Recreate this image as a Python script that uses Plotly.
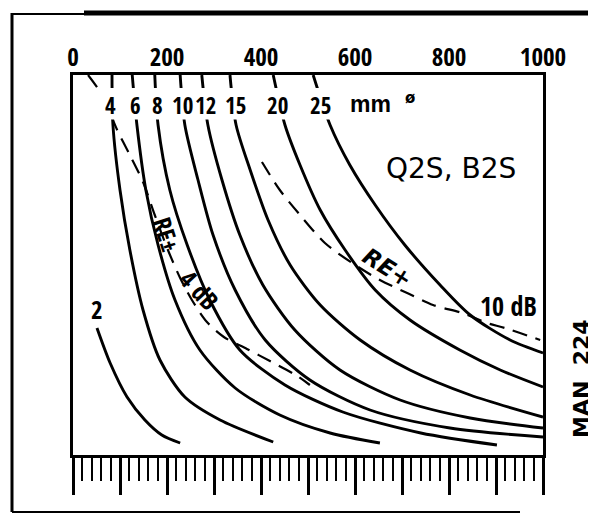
import plotly.graph_objects as go

# Distance (mm) and gain (dB, increasing downward)
d2_x = [51, 79, 115, 153, 189, 228]
d2_y = [50.6, 57.6, 64.4, 69.0, 72.0, 73.6]

d4_x = [83, 85, 100, 121, 149, 185, 238, 313, 426]
d4_y = [0, 10, 23, 35, 47, 57, 64.4, 69, 73.4]

d6_x = [126, 136, 155, 181, 217, 270, 345, 440, 547, 653]
d6_y = [0, 10, 23, 34, 45, 55, 62.6, 68, 71.6, 73.6]

d8_x = [174, 181, 206, 243, 291, 355, 451, 574, 740, 902]
d8_y = [0, 10, 23, 34, 45, 55, 62, 67.4, 71.6, 74]

d10_x = [228, 238, 266, 298, 345, 409, 504, 632, 802, 1000]
d10_y = [0, 10, 21, 32, 43, 53, 61, 67, 70.6, 72.4]

d12_x = [274, 287, 317, 355, 404, 472, 568, 696, 845, 1000]
d12_y = [0, 10, 21, 32, 42, 51, 59, 65, 68.6, 70.6]

d15_x = [334, 347, 377, 415, 462, 526, 611, 717, 845, 1000]
d15_y = [0, 10, 19, 29, 38, 46, 53, 59, 64, 68.4]

d20_x = [426, 451, 483, 526, 579, 643, 717, 823, 909, 1000]
d20_y = [0, 10, 18, 27, 35, 43, 49, 55, 59, 62.4]

d25_x = [511, 547, 589, 643, 706, 781, 845, 930, 1000]
d25_y = [0, 10, 18, 26, 34, 42, 48, 53, 55.6]

re4_x = [32, 62, 94, 121, 149, 174, 202, 228, 253, 285, 321, 370, 419, 477, 504]
re4_y = [0, 4, 11, 16, 21.4, 28, 35, 40.6, 45, 49.4, 52.4, 54.8, 57.2, 60.2, 62]

re10_x = [402, 440, 483, 536, 594, 653, 711, 766, 828, 881, 919, 994]
re10_y = [17.4, 23, 28, 33.6, 37.6, 41, 43.6, 46, 47.6, 49.6, 50.6, 53]

top_ticks = [0, 200, 400, 600, 800, 1000]
size_labels = ["4", "6", "8", "10", "12", "15", "20", "25"]
size_label_x = [79, 132, 179, 234, 281, 345, 436, 526]

solid = [(d2_x, d2_y), (d4_x, d4_y), (d6_x, d6_y), (d8_x, d8_y), (d10_x, d10_y),
         (d12_x, d12_y), (d15_x, d15_y), (d20_x, d20_y), (d25_x, d25_y)]

fig = go.Figure()
for i, (xs, ys) in enumerate(solid):
    fig.add_trace(go.Scatter(x=xs, y=ys, mode="lines",
                             line=dict(color="black", width=2.9, shape="spline", smoothing=0.8),
                             hoverinfo="skip", showlegend=False, xaxis="x2" if i == 8 else "x"))
for xs, ys in [(re4_x, re4_y), (re10_x, re10_y)]:
    fig.add_trace(go.Scatter(x=xs, y=ys, mode="lines",
                             line=dict(color="black", width=2.2, dash="15px,9px", shape="spline", smoothing=0.8),
                             hoverinfo="skip", showlegend=False))

cond = ("Open Sans Condensed, DejaVu Sans Condensed, Liberation Sans Narrow, Arial Narrow, "
        "Roboto Condensed, DejaVu Sans, sans-serif")

# page is offset by the 8px body margin; plot area at page x 73..543, y 75..455
fig.update_layout(
    width=588, height=506,
    margin=dict(l=65, r=53, t=67, b=59),
    paper_bgcolor="white", plot_bgcolor="white",
    xaxis=dict(range=[0, 1000], showgrid=False, zeroline=False, showline=True, linecolor="black", linewidth=3,
               mirror=True, ticks="outside", tickvals=list(range(0, 1001, 100)), ticklen=37, tickwidth=3,
               tickcolor="black", showticklabels=False,
               minor=dict(ticks="outside", dtick=20, tick0=0, ticklen=23, tickwidth=2, tickcolor="black",
                          showgrid=False)),
    xaxis2=dict(range=[0, 1000], overlaying="x", side="top", showgrid=False, zeroline=False, showline=False,
                ticks="", tickvals=top_ticks, ticktext=[str(v) for v in top_ticks], ticklabelstandoff=3,
                tickfont=dict(family=cond, size=25, color="black", weight="bold")),
    yaxis=dict(range=[76, 0], showgrid=False, zeroline=False, showline=True, linecolor="black", linewidth=3,
               mirror=True, ticks="", showticklabels=False),
)


def px2paper_x(px):
    return (px - 73) / 470.0


def px2paper_y(py):
    return (455 - py) / 380.0


shapes = []
# white band masking the curves behind the size labels
shapes.append(dict(type="rect", xref="x", yref="y", x0=15, x1=760, y0=2.6, y1=8.9,
                   fillcolor="white", line=dict(width=0), layer="above"))
# outer frame of the scan
shapes.append(dict(type="line", xref="paper", yref="paper", x0=px2paper_x(84), x1=px2paper_x(600),
                   y0=px2paper_y(13), y1=px2paper_y(13), line=dict(color="black", width=5)))
shapes.append(dict(type="line", xref="paper", yref="paper", x0=px2paper_x(11), x1=px2paper_x(84),
                   y0=px2paper_y(14), y1=px2paper_y(14), line=dict(color="black", width=2)))
shapes.append(dict(type="line", xref="paper", yref="paper", x0=px2paper_x(12), x1=px2paper_x(12),
                   y0=px2paper_y(13), y1=px2paper_y(512), line=dict(color="black", width=3)))
shapes.append(dict(type="line", xref="paper", yref="paper", x0=px2paper_x(12), x1=px2paper_x(520),
                   y0=px2paper_y(512), y1=px2paper_y(512), line=dict(color="black", width=2)))
fig.update_layout(shapes=shapes)

ann = []
for t, xv in zip(size_labels, size_label_x):
    ann.append(dict(x=xv, y=6.0, xref="x", yref="y", text=t, showarrow=False,
                    font=dict(family=cond, size=23, color="black", weight="bold")))
ann.append(dict(x=632, y=5.8, xref="x", yref="y", text="mm", showarrow=False,
                font=dict(family="Liberation Sans, sans-serif", size=23, color="black", weight="bold")))
ann.append(dict(x=717, y=4.6, xref="x", yref="y", text="\u00f8", showarrow=False,
                font=dict(family="DejaVu Sans, sans-serif", size=15, color="black", weight="bold")))
ann.append(dict(x=51, y=46.8, xref="x", yref="y", text="2", showarrow=False,
                font=dict(family=cond, size=25, color="black", weight="bold")))
ann.append(dict(x=804, y=18.6, xref="x", yref="y", text="Q2S, B2S", showarrow=False,
                font=dict(family="DejaVu Sans, sans-serif", size=28, color="black")))
ann.append(dict(x=926, y=46.2, xref="x", yref="y", text="10 dB", showarrow=False,
                font=dict(family=cond, size=26, color="black", weight="bold")))
ann.append(dict(x=670, y=38.6, xref="x", yref="y", text="<i>RE+</i>", showarrow=False, textangle=32,
                font=dict(family="DejaVu Sans, sans-serif", size=23, color="black", weight="bold")))
# curved label along the left dashed line, set in two pieces
ann.append(dict(x=200, y=31.8, xref="x", yref="y", text="RE\u00b1", showarrow=False, textangle=72,
                font=dict(family=cond, size=25, color="black", weight="bold")))
ann.append(dict(x=270, y=43.0, xref="x", yref="y", text="4 dB", showarrow=False, textangle=47,
                font=dict(family=cond, size=25, color="black", weight="bold")))
ann.append(dict(x=px2paper_x(581), y=px2paper_y(379), xref="paper", yref="paper", text="MAN  224",
                showarrow=False, textangle=-90, xanchor="center", yanchor="middle",
                font=dict(family="DejaVu Sans, sans-serif", size=22, color="black", weight="bold")))
fig.update_layout(annotations=ann)

fig.write_html("out.html")
